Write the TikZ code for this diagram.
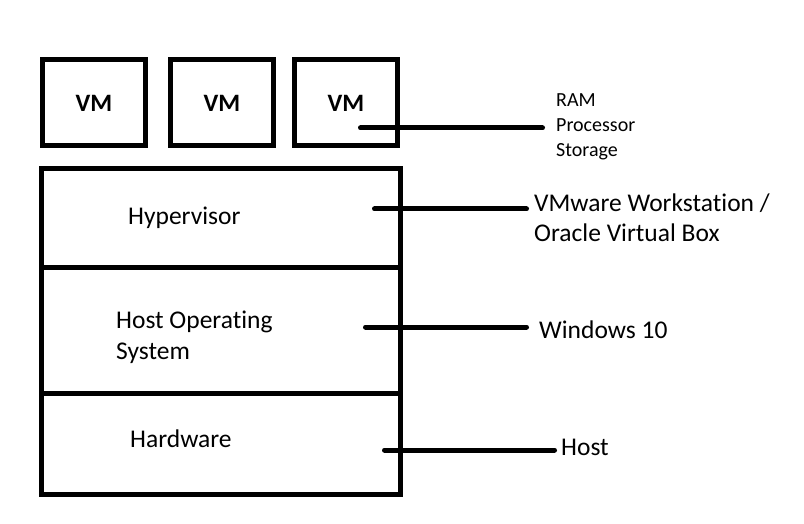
\documentclass[tikz,border=0pt]{standalone}
\usepackage{fontspec}
\setmainfont{Carlito}[Ligatures=NoCommon]

\begin{document}
\begin{tikzpicture}[x=1pt,y=-1pt,
  box/.style={draw,line width=5pt,inner sep=0pt},
  vmbox/.style={box,minimum width=103pt,minimum height=86pt,font=\bfseries\fontsize{25}{30}\selectfont},
  tag/.style={inner sep=0pt,anchor=base west,align=left,font=\fontsize{25.5}{30.5}\selectfont},
  smalltag/.style={tag,font=\fontsize{20}{25}\selectfont},
  link/.style={line width=5pt,line cap=round}]
\useasboundingbox (0,0) rectangle (804,524);
% virtual machines
\node[vmbox] (vm1) at (94,103) {VM};
\node[vmbox] (vm2) at (222,103) {VM};
\node[vmbox] (vm3) at (346,103) {VM};
% layers of the host
\node[box,minimum width=359.5pt,minimum height=98pt] (hyper) at (220.75,218) {};
\node[box,minimum width=359.5pt,minimum height=126.5pt] (hostos) at (220.75,330.25) {};
\node[box,minimum width=359.5pt,minimum height=101pt] (hw) at (220.75,444) {};
\node[tag] (hypertxt) at (128,225) {Hypervisor};
\node[tag] (hostostxt) at (116,359) {Host Operating\\System};
\node[tag] (hwtxt) at (130,447) {Hardware};
% labels on the right
\node[smalltag] (restxt) at (556,157) {RAM\\Processor\\Storage};
\node[tag] (vmwtxt) at (534,242) {VMware Workstation /\\Oracle Virtual Box};
\node[tag] (wintxt) at (539,338) {Windows 10};
\node[tag] (hosttxt) at (561,455) {Host};
\coordinate (vmtap) at (360.5,128);
\coordinate (hypertap) at (374.5,209);
\coordinate (hostostap) at (365.5,327);
\coordinate (hwtap) at (384.5,450);
\draw[link] (vmtap) -- ([xshift=-13.5pt]restxt.west |- vmtap);
\draw[link] (hypertap) -- ([xshift=-7.5pt]vmwtxt.west |- hypertap);
\draw[link] (hostostap) -- ([xshift=-12.5pt]wintxt.west |- hostostap);
\draw[link] (hwtap) -- ([xshift=-6.5pt]hosttxt.west |- hwtap);
\end{tikzpicture}
\end{document}
